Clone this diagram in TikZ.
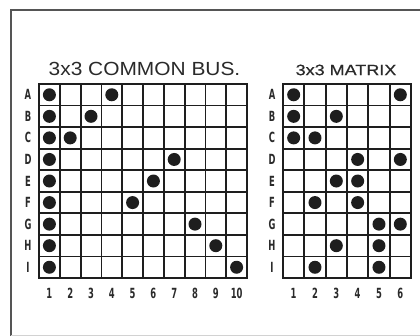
\documentclass[tikz,border=0pt]{standalone}
\usepackage{fontspec}
\newfontfamily\ttlfont{Liberation Sans}[FakeStretch=1.1]
\newfontfamily\ttlfontb{Liberation Sans}[FakeStretch=1.2,FakeBold=0.6]
\newfontfamily\lblfont{DejaVu Sans}[FakeStretch=0.6]
\definecolor{ink}{HTML}{1E1E1E}
\definecolor{txt}{HTML}{2A2A2A}
\definecolor{framec}{HTML}{555555}
\tikzset{
  frameline/.style={draw=framec, line width=2pt},
  gridline/.style={draw=ink, line width=1.8pt, line cap=rect},
  dot/.style={fill=ink},
  lbl/.style={inner sep=0pt, text=txt, font=\lblfont\bfseries\fontsize{14}{14}\selectfont},
  ttlA/.style={inner sep=0pt, text=txt, font=\ttlfont\fontsize{19}{19}\selectfont},
  ttlB/.style={inner sep=0pt, text=txt, font=\ttlfontb\fontsize{15}{15}\selectfont}
}
\begin{document}
\begin{tikzpicture}[x=1pt,y=-1pt]
\useasboundingbox (0,0) rectangle (420,336);
\fill[white] (0,0) rectangle (420,336);
% outer frame
\draw[frameline] (10.5,337) -- (10.5,10.5) -- (421,10.5);
\draw[gray!35, line width=1pt] (10.5,335.5) -- (421,335.5);
% titles
\node[ttlA] (t1) at (144.5,69) {3x3 COMMON BUS.};
\node[ttlB] (t2) at (346,70) {3x3 MATRIX};
% left grid
\foreach \i in {0,...,10} \draw[gridline] ({39+\i*20.8},84) -- ({39+\i*20.8},278);
\foreach \j in {0,...,9} \draw[gridline] (39,{84+\j*21.56}) -- (247,{84+\j*21.56});
\foreach \c/\r in {1/1,1/2,1/3,1/4,1/5,1/6,1/7,1/8,1/9,4/1,3/2,2/3,7/4,6/5,5/6,8/7,9/8,10/9}
  \fill[dot] ({39+(\c-0.5)*20.8},{84+(\r-0.5)*21.56}) circle[radius=6.5pt];
\foreach \l [count=\r] in {A,B,C,D,E,F,G,H,I}
  \node[lbl] (la\l) at (28,{84+(\r-0.5)*21.56}) {\l};
\foreach \n in {1,...,10}
  \node[lbl] (lc\n) at ({39+(\n-0.5)*20.8},293) {\n};
% right grid
\foreach \i in {0,...,6} \draw[gridline] ({283+\i*21.33},84) -- ({283+\i*21.33},278);
\foreach \j in {0,...,9} \draw[gridline] (283,{84+\j*21.56}) -- (411,{84+\j*21.56});
\foreach \c/\r in {1/1,6/1,1/2,3/2,1/3,2/3,4/4,6/4,3/5,4/5,2/6,4/6,5/7,6/7,3/8,5/8,2/9,5/9}
  \fill[dot] ({283+(\c-0.5)*21.33},{84+(\r-0.5)*21.56}) circle[radius=6.5pt];
\foreach \l [count=\r] in {A,B,C,D,E,F,G,H,I}
  \node[lbl] (ra\l) at (272,{84+(\r-0.5)*21.56}) {\l};
\foreach \n in {1,...,6}
  \node[lbl] (rc\n) at ({283+(\n-0.5)*21.33},293) {\n};
\end{tikzpicture}
\end{document}
